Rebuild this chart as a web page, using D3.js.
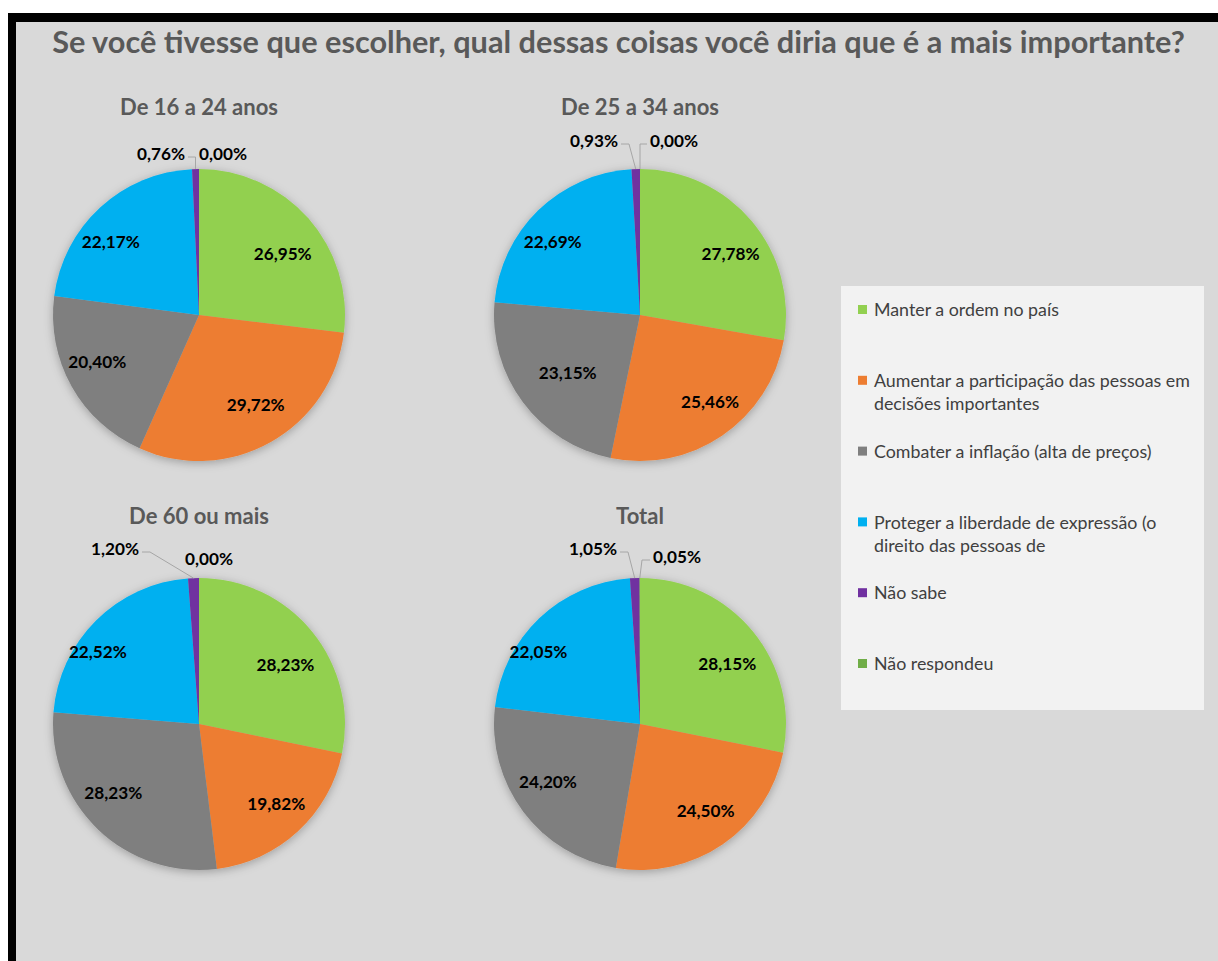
<!DOCTYPE html>
<html>
<head>
<meta charset="utf-8">
<script src="https://cdn.jsdelivr.net/npm/d3@7"></script>
<style>
  body { margin: 0; background: #ffffff; }
  svg { display: block; }
  text { font-family: Lato, "Open Sans", sans-serif; }
</style>
</head>
<body>
<div id="chart"></div>
<script>
// data
var chartTitle = "Se você tivesse que escolher, qual dessas coisas você diria que é a mais importante?";
var categories = [
  "Manter a ordem no país",
  "Aumentar a participação das pessoas em decisões importantes",
  "Combater a inflação (alta de preços)",
  "Proteger a liberdade de expressão (o direito das pessoas de",
  "Não sabe",
  "Não respondeu"
];
var groups = ["De 16 a 24 anos", "De 25 a 34 anos", "De 60 ou mais", "Total"];
var values16to24 = [26.95, 29.72, 20.40, 22.17, 0.76, 0.00];
var values25to34 = [27.78, 25.46, 23.15, 22.69, 0.93, 0.00];
var values60plus = [28.23, 19.82, 28.23, 22.52, 1.20, 0.00];
var valuesTotal  = [28.15, 24.50, 24.20, 22.05, 1.05, 0.05];
var allValues = [values16to24, values25to34, values60plus, valuesTotal];

var colors = ["#92d050", "#ed7d31", "#7f7f7f", "#00b0f0", "#7030a0", "#70ad47"];

// layout
var W = 1218, H = 961;
var colX = [199, 640], rowY = [315, 724];
var radius = 146;
// nudges (dx, dy) of the inside labels away from the arc centroid, like excel's "best fit"
var insideNudge = [
  [[5, 9], [5, -2], [-10, -4], [-17, 4]],
  [[10, 7], [11, 0], [12, -5], [-14, 2]],
  [[5, 7], [6, 3], [-13, -7], [-27, 2]],
  [[6, 7], [6, 0], [-8, -5], [-29, 4]]
];
// where the two small-slice labels sit, relative to each pie centre (centre x, baseline y), and whether a leader is drawn
var smallLabelPos = [
  [[-38, -155, true], [24, -155, false]],
  [[-46, -168, true], [34, -168, true]],
  [[-84, -169, true], [10, -159, false]],
  [[-47, -169, true], [37, -161, true]]
];

var svg = d3.select("#chart").append("svg")
  .attr("width", W).attr("height", H);

// shadow for the pies
var defs = svg.append("defs");
var f = defs.append("filter").attr("id", "shadow")
  .attr("x", "-20%").attr("y", "-20%").attr("width", "140%").attr("height", "140%");
f.append("feDropShadow").attr("dx", 0).attr("dy", 2).attr("stdDeviation", 5)
  .attr("flood-color", "#000").attr("flood-opacity", 0.28);

// frame
svg.append("rect").attr("x", 8).attr("y", 13).attr("width", W - 8).attr("height", H - 13).attr("fill", "#000");
svg.append("rect").attr("x", 16).attr("y", 22).attr("width", W - 16).attr("height", H - 22).attr("fill", "#d9d9d9");

// helper: font size so that a sample string has a given width
function fitSize(sample, weight, target) {
  var t = svg.append("text").attr("font-size", 100).attr("font-weight", weight).text(sample);
  var w = t.node().getComputedTextLength();
  t.remove();
  return 100 * target / w;
}

var titleSize = fitSize(chartTitle, "bold", 1133);
var subSize = fitSize("De 16 a 24 anos", "bold", 158);
var labelSize = fitSize("0,76%", "bold", 48);
var legendSize = fitSize("Aumentar a participação das pessoas em", "normal", 316);

svg.append("text")
  .attr("x", 618.5).attr("y", 53)
  .attr("text-anchor", "middle")
  .attr("font-size", titleSize).attr("font-weight", "bold")
  .attr("fill", "#595959")
  .text(chartTitle);

var locale = d3.formatLocale({ decimal: ",", thousands: ".", grouping: [3], currency: ["R$", ""] });
var fmt = locale.format(".2f");

var pie = d3.pie().sort(null).value(function(d) { return d; });
var arc = d3.arc().innerRadius(0).outerRadius(radius);
var labelArc = d3.arc().innerRadius(radius * 0.72).outerRadius(radius * 0.72);

allValues.forEach(function(vals, gi) {
  var cx = colX[gi % 2], cy = rowY[Math.floor(gi / 2)];
  var g = svg.append("g").attr("transform", "translate(" + cx + "," + cy + ")");

  g.append("text")
    .attr("x", 0).attr("y", -200)
    .attr("text-anchor", "middle")
    .attr("font-size", subSize).attr("font-weight", "bold")
    .attr("fill", "#595959")
    .text(groups[gi]);

  var arcs = pie(vals);

  g.append("g").attr("filter", "url(#shadow)")
    .selectAll("path")
    .data(arcs)
    .enter()
    .append("path")
    .attr("d", arc)
    .attr("fill", function(d, i) { return colors[i]; });

  // big slices: labels inside
  arcs.forEach(function(d, i) {
    if (d.data < 2) return;
    var c = labelArc.centroid(d);
    var n = insideNudge[gi][i];
    g.append("text")
      .attr("x", c[0] + n[0]).attr("y", c[1] + n[1])
      .attr("dy", "0.35em")
      .attr("text-anchor", "middle")
      .attr("font-size", labelSize).attr("font-weight", "bold")
      .attr("fill", "#000")
      .text(fmt(d.data) + "%");
  });

  // small slices: labels outside with leader lines
  var small = arcs.filter(function(d) { return d.data < 2; });
  small.forEach(function(d, k) {
    var pos = smallLabelPos[gi][k];
    var t = g.append("text")
      .attr("x", pos[0]).attr("y", pos[1])
      .attr("text-anchor", "middle")
      .attr("font-size", labelSize).attr("font-weight", "bold")
      .attr("fill", "#000")
      .text(fmt(d.data) + "%");
    if (!pos[2]) return;
    var half = t.node().getComputedTextLength() / 2;
    var mid = (d.startAngle + d.endAngle) / 2;
    var ax = Math.sin(mid) * radius, ay = -Math.cos(mid) * radius;
    var left = pos[0] < ax;
    var ex = left ? pos[0] + half + 3 : pos[0] - half - 3;
    var ly = pos[1] - 3;
    var bx = left ? Math.min(ex + 8, ax) : Math.max(ex - 8, ax);
    g.append("polyline")
      .attr("points", [[ax, ay], [bx, ly], [ex, ly]].map(function(p) { return p.join(","); }).join(" "))
      .attr("fill", "none")
      .attr("stroke", "#a6a6a6")
      .attr("stroke-width", 1);
  });
});

// legend
var lg = svg.append("g");
lg.append("rect").attr("x", 841).attr("y", 286).attr("width", 363).attr("height", 424).attr("fill", "#f2f2f2");

function wrap(text, maxW) {
  var words = text.split(" "), lines = [], cur = "";
  var t = svg.append("text").attr("font-size", legendSize);
  words.forEach(function(w) {
    var test = cur ? cur + " " + w : w;
    t.text(test);
    if (t.node().getComputedTextLength() > maxW && cur) {
      lines.push(cur);
      cur = w;
    } else {
      cur = test;
    }
  });
  lines.push(cur);
  t.remove();
  return lines;
}

categories.forEach(function(name, i) {
  var y0 = 310 + i * 70.8;
  lg.append("rect")
    .attr("x", 858).attr("y", y0 - 5).attr("width", 9).attr("height", 9)
    .attr("fill", colors[i]);
  var lines = wrap(name, 322);
  var t = lg.append("text")
    .attr("font-size", legendSize)
    .attr("fill", "#404040");
  lines.forEach(function(line, j) {
    t.append("tspan")
      .attr("x", 874)
      .attr("y", y0 + j * 23)
      .attr("dy", "0.35em")
      .text(line);
  });
});
</script>
</body>
</html>
